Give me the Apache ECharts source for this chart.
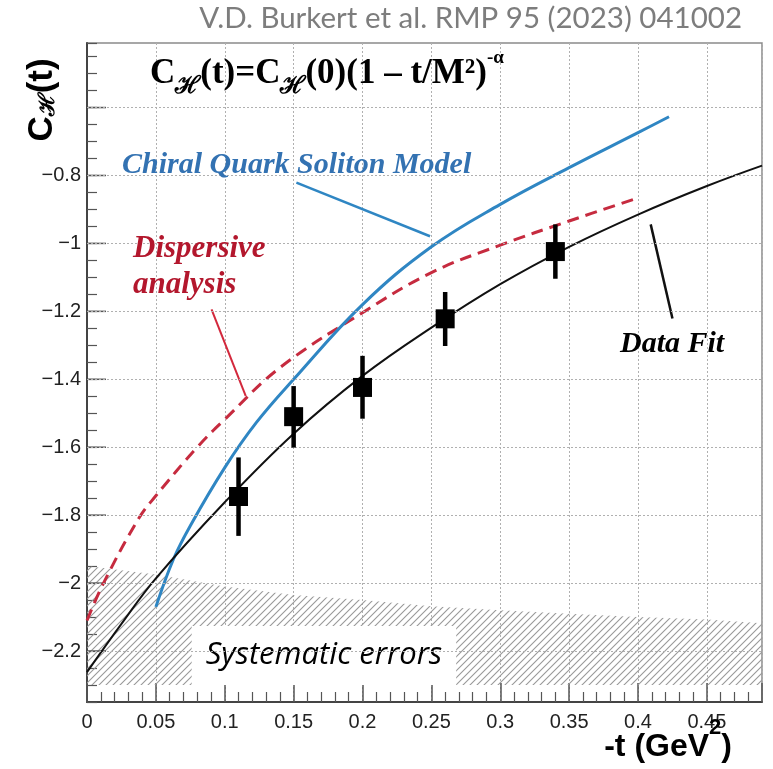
<!DOCTYPE html>
<html>
<head>
<meta charset="utf-8">
<script src="https://cdn.jsdelivr.net/npm/echarts@6/dist/echarts.min.js"></script>
<style>
  html, body { margin: 0; padding: 0; background: #fff; }
  #chart { width: 773px; height: 769px; }
</style>
</head>
<body>
<div id="chart"></div>
<script>
// Curvas (x = -t en GeV^2, y = C_H)
const fitX = [0, 0.025, 0.05, 0.1, 0.15, 0.2, 0.25, 0.3, 0.35, 0.4, 0.45, 0.49];
const fitY = [-2.262, -2.12, -1.986, -1.762, -1.56, -1.39, -1.248, -1.12, -1.01, -0.915, -0.831, -0.771];

const chiralX = [0.05, 0.0628, 0.075, 0.1, 0.123, 0.15, 0.2, 0.25, 0.3, 0.35, 0.4, 0.4225];
const chiralY = [-2.07, -1.929, -1.831, -1.66, -1.527, -1.40, -1.18, -1.01, -0.885, -0.777, -0.674, -0.627];

const dispX = [0, 0.012, 0.0375, 0.05, 0.08, 0.1, 0.14, 0.2, 0.25, 0.3, 0.35, 0.4];
const dispY = [-2.11, -2.0, -1.81, -1.743, -1.60, -1.518, -1.366, -1.204, -1.086, -1.005, -0.934, -0.866];

// Puntos de datos con sus barras de error
const pointX = [0.11, 0.15, 0.2, 0.26, 0.34];
const pointY = [-1.745, -1.51, -1.424, -1.222, -1.024];
const pointHigh = [-1.63, -1.42, -1.331, -1.143, -0.944];
const pointLow = [-1.861, -1.601, -1.516, -1.302, -1.104];

// Banda de errores sistemáticos
const bandX = [0, 0.05, 0.1, 0.15, 0.2, 0.25, 0.3, 0.35, 0.4, 0.45, 0.49];
const bandUpper = [-1.95, -1.975, -2.01, -2.035, -2.05, -2.068, -2.08, -2.09, -2.10, -2.107, -2.118];
const bandLower = [-2.3, -2.3, -2.3, -2.3, -2.3, -2.3, -2.3, -2.3, -2.3, -2.3, -2.3];

// Caja blanca de "Systematic errors" y líneas indicadoras
const sysBox = [0.076, -2.126, 0.268, -2.3];
const chiralPointer = [[0.152, -0.821], [0.249, -0.979]];
const dispPointer = [[0.0904, -1.194], [0.1152, -1.449]];
const fitPointer = [[0.4092, -0.944], [0.425, -1.221]];

// Marcas principales del eje Y (rejilla y ticks largos)
const yMajor = [-2.2, -2.0, -1.8, -1.6, -1.4, -1.2, -1.0, -0.8, -0.6];

const pairs = (xs, ys) => xs.map((x, i) => [x, ys[i]]);

// Patrón rayado para la banda
function hatchPattern() {
    const c = document.createElement('canvas');
    c.width = 7; c.height = 7;
    const ctx = c.getContext('2d');
    ctx.strokeStyle = '#999';
    ctx.lineWidth = 1.1;
    ctx.beginPath();
    ctx.moveTo(-1, 8); ctx.lineTo(8, -1);
    ctx.moveTo(-1, 1); ctx.lineTo(1, -1);
    ctx.moveTo(6, 8); ctx.lineTo(8, 6);
    ctx.stroke();
    return c;
}
const hatch = hatchPattern();

const chart = echarts.init(document.getElementById('chart'));

const isMultiple = (v, step) => Math.abs(v / step - Math.round(v / step)) < 1e-6;
const gridDots = { color: '#b0b0b0', type: [2, 2], width: 1 };

const option = {
    animation: false,
    grid: { left: 87, right: 11, top: 43, bottom: 67, show: true, borderColor: '#8a8a8a', borderWidth: 1.5 },
    xAxis: {
        type: 'value', min: 0, max: 0.49, interval: 0.05,
        axisLine: { onZero: false, lineStyle: { color: '#444', width: 2 } },
        axisTick: { inside: true, length: 19, lineStyle: { color: '#555', width: 1.5 } },
        minorTick: { show: true, splitNumber: 5, length: 10, lineStyle: { color: '#555', width: 1.2 } },
        splitLine: { show: true, lineStyle: gridDots },
        axisLabel: {
            color: '#222', fontSize: 20, fontFamily: 'Liberation Sans', margin: 10,
            formatter: v => isMultiple(v, 0.05) ? String(Math.round(v * 100) / 100) : ''
        }
    },
    yAxis: {
        // el intervalo fino de 0.05 cae exacto desde el mínimo; los ticks largos y la rejilla van aparte
        type: 'value', min: -2.35, max: -0.41, interval: 0.05,
        axisLine: { onZero: false, lineStyle: { color: '#444', width: 2 } },
        axisTick: { inside: true, length: 10, lineStyle: { color: '#555', width: 1.2 } },
        splitLine: { show: false },
        axisLabel: {
            color: '#222', fontSize: 20, fontFamily: 'Liberation Sans', margin: 6,
            formatter: v => {
                const r = Math.round(v * 100) / 100;
                if (!isMultiple(r, 0.2) || r > -0.7) return '';
                return String(r).replace('-', '\u2212');
            }
        }
    },
    series: [
        {
            name: 'grid', type: 'line', z: 1, data: [], silent: true,
            markLine: {
                silent: true, symbol: ['none', 'none'], label: { show: false },
                lineStyle: gridDots,
                data: yMajor.map(v => ({ yAxis: v }))
            }
        },
        {
            name: 'band', type: 'custom', z: 2, silent: true,
            data: [[0, -2.3]],
            renderItem: (params, api) => {
                const top = bandX.map((x, i) => api.coord([x, bandUpper[i]]));
                const bottom = bandX.map((x, i) => api.coord([x, bandLower[i]])).reverse();
                return { type: 'polygon', shape: { points: top.concat(bottom) }, style: { fill: { image: hatch, repeat: 'repeat' }, stroke: null } };
            }
        },
        {
            name: 'sysBox', type: 'custom', z: 3, silent: true,
            data: [sysBox],
            renderItem: (params, api) => {
                const a = api.coord([api.value(0), api.value(1)]);
                const b = api.coord([api.value(2), api.value(3)]);
                return {
                    type: 'group',
                    children: [
                        { type: 'rect', shape: { x: a[0], y: a[1], width: b[0] - a[0], height: b[1] - a[1] }, style: { fill: '#fff', stroke: null } },
                        {
                            type: 'text', x: (a[0] + b[0]) / 2, y: (a[1] + b[1]) / 2,
                            style: { text: 'Systematic errors', fill: '#000', font: 'italic 31px Open Sans', align: 'center', verticalAlign: 'middle' }
                        }
                    ]
                };
            }
        },
        {
            name: 'yTicks', type: 'custom', z: 3, silent: true,
            data: yMajor.map(v => [0, v]),
            renderItem: (params, api) => {
                const p = api.coord([api.value(0), api.value(1)]);
                return { type: 'line', shape: { x1: p[0], y1: p[1], x2: p[0] + 19, y2: p[1] }, style: { stroke: '#555', lineWidth: 1.5 } };
            }
        },
        {
            name: 'Dispersive analysis', type: 'line', z: 4, smooth: 0.4, symbol: 'none',
            lineStyle: { color: '#c62b3f', width: 3, type: [12, 7] },
            data: pairs(dispX, dispY)
        },
        {
            name: 'Chiral Quark Soliton Model', type: 'line', z: 4, smooth: 0.4, symbol: 'none',
            lineStyle: { color: '#2f86c3', width: 3 },
            data: pairs(chiralX, chiralY)
        },
        {
            name: 'Data Fit', type: 'line', z: 4, smooth: 0.4, symbol: 'none',
            lineStyle: { color: '#111', width: 2 },
            data: pairs(fitX, fitY)
        },
        { type: 'line', z: 4, symbol: 'none', lineStyle: { color: '#2f86c3', width: 2.5 }, data: chiralPointer },
        { type: 'line', z: 4, symbol: 'none', lineStyle: { color: '#d3283c', width: 2 }, data: dispPointer },
        { type: 'line', z: 4, symbol: 'none', lineStyle: { color: '#111', width: 2.5 }, data: fitPointer },
        {
            name: 'errors', type: 'custom', z: 5,
            data: pointX.map((x, i) => [x, pointLow[i], pointHigh[i]]),
            renderItem: (params, api) => {
                const lo = api.coord([api.value(0), api.value(1)]);
                const hi = api.coord([api.value(0), api.value(2)]);
                return { type: 'line', shape: { x1: lo[0], y1: lo[1], x2: hi[0], y2: hi[1] }, style: { stroke: '#000', lineWidth: 4.5 } };
            }
        },
        {
            name: 'data', type: 'scatter', z: 6, symbol: 'rect', symbolSize: 19,
            itemStyle: { color: '#000', opacity: 1 },
            data: pairs(pointX, pointY)
        }
    ],
    graphic: [
        {
            type: 'text', x: 742, y: 18, z: 10,
            style: { text: 'V.D. Burkert et al. RMP 95 (2023) 041002', fill: '#7d7d7d', font: '29.5px Lato', align: 'right', verticalAlign: 'middle' }
        },
        {
            type: 'text', x: 42, y: 100, rotation: Math.PI / 2, z: 10,
            style: {
                text: 'C{s|\u210B}(t)', fill: '#000', fontSize: 35, fontWeight: 'bold', fontFamily: 'Liberation Sans',
                align: 'center', verticalAlign: 'middle',
                rich: { s: { fontSize: 22, fontWeight: 'bold', fontFamily: 'DejaVu Serif', fill: '#000', verticalAlign: 'bottom' } }
            }
        },
        {
            type: 'text', x: 150, y: 74, z: 10,
            style: {
                text: 'C{s|\u210B}(t)=C{s|\u210B}(0)(1 \u2013 t/M\u00B2){p|-\u03B1}', fill: '#000',
                fontSize: 35, fontWeight: 'bold', fontFamily: 'Liberation Serif', lineHeight: 50, verticalAlign: 'middle',
                rich: {
                    s: { fontSize: 24, fontWeight: 'bold', fontFamily: 'DejaVu Serif', fill: '#000', lineHeight: 34, verticalAlign: 'bottom' },
                    p: { fontSize: 19, fontWeight: 'bold', fontFamily: 'Liberation Serif', fill: '#000', lineHeight: 19, verticalAlign: 'top' }
                }
            }
        },
        {
            type: 'text', x: 122, y: 165, z: 10,
            style: { text: 'Chiral Quark Soliton Model', fill: '#3372b2', font: 'italic bold 30px Liberation Serif', verticalAlign: 'middle' }
        },
        {
            type: 'text', x: 133, y: 249, z: 10,
            style: { text: 'Dispersive', fill: '#b3172d', font: 'italic bold 31px Liberation Serif', verticalAlign: 'middle' }
        },
        {
            type: 'text', x: 133, y: 285, z: 10,
            style: { text: 'analysis', fill: '#b3172d', font: 'italic bold 31px Liberation Serif', verticalAlign: 'middle' }
        },
        {
            type: 'text', x: 620, y: 344, z: 10,
            style: { text: 'Data Fit', fill: '#000', font: 'italic bold 30px Liberation Serif', verticalAlign: 'middle' }
        },
        {
            type: 'text', x: 732, y: 747, z: 10,
            style: {
                text: '-t (GeV{p|2})', fill: '#000', fontSize: 32, fontWeight: 'bold', fontFamily: 'Liberation Sans',
                lineHeight: 60, align: 'right', verticalAlign: 'middle',
                rich: { p: { fontSize: 22, fontWeight: 'bold', fontFamily: 'Liberation Sans', fill: '#000', lineHeight: 24, verticalAlign: 'top' } }
            }
        }
    ]
};

chart.setOption(option);
</script>
</body>
</html>
